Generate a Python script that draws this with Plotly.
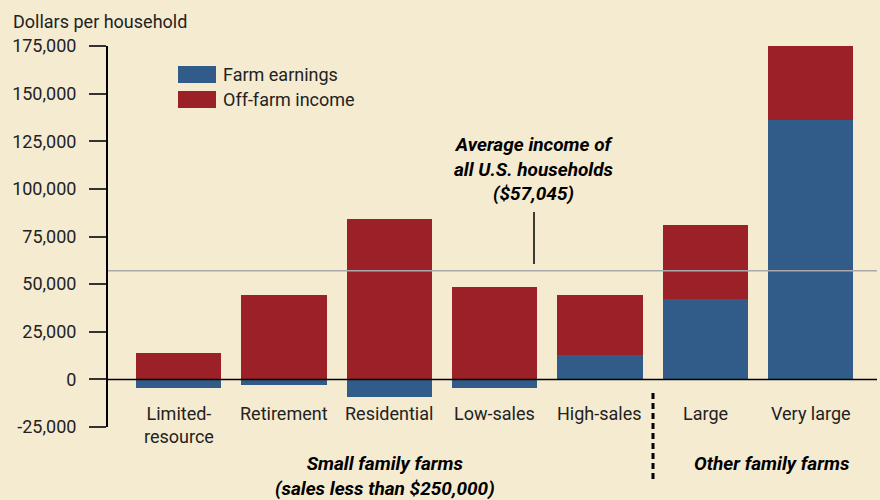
import plotly.graph_objects as go

categories = ["Limited-<br>resource", "Retirement", "Residential", "Low-sales", "High-sales", "Large", "Very large"]
farm_earnings = [-4500, -3200, -9300, -4600, 12600, 42000, 136000]
off_farm_income = [13700, 44100, 84000, 48300, 31500, 38900, 38900]
avg_income = 57045
y_ticks = [-25000, 0, 25000, 50000, 75000, 100000, 125000, 150000, 175000]

BLUE = "#315b88"
RED = "#9c2027"
BG = "#f5ebd0"
FONT = "Roboto, sans-serif"
TXT = "#222222"
FS = 18

xs = list(range(len(categories)))

fig = go.Figure()
fig.add_trace(go.Bar(x=xs, y=farm_earnings, marker_color=BLUE, width=0.81,
                     name="Farm earnings", showlegend=False, marker_line_width=0))
fig.add_trace(go.Bar(x=xs, y=off_farm_income, marker_color=RED, width=0.81,
                     name="Off-farm income", showlegend=False, marker_line_width=0))

L, R, T, B = 108, 3, 46, 73
W, H = 880, 500
pw, ph = W - L - R, H - T - B

def px_x(p):
    return (p - L) / pw

def px_y(p):
    return (H - B - p) / ph

shapes = []
annotations = []

shapes.append(dict(type="line", xref="paper", yref="y", x0=0, x1=1, y0=avg_income, y1=avg_income,
                   line=dict(color="#a9a9a9", width=1.5), layer="above"))
shapes.append(dict(type="line", xref="paper", yref="y", x0=0, x1=1, y0=0, y1=0,
                   line=dict(color="#000000", width=1.5), layer="above"))
shapes.append(dict(type="line", xref="paper", yref="paper", x0=px_x(534), x1=px_x(534),
                   y0=px_y(212), y1=px_y(264), line=dict(color="#000", width=1.5)))
shapes.append(dict(type="line", xref="paper", yref="paper", x0=px_x(653), x1=px_x(653),
                   y0=px_y(393), y1=px_y(483), line=dict(color="#000", width=3, dash="6px,4px")))

for (y0, y1, col, label) in [(66, 83, BLUE, "Farm earnings"), (91, 108, RED, "Off-farm income")]:
    shapes.append(dict(type="rect", xref="paper", yref="paper", x0=px_x(178), x1=px_x(216),
                       y0=px_y(y1), y1=px_y(y0), fillcolor=col, line=dict(width=0)))
    annotations.append(dict(xref="paper", yref="paper", x=px_x(221), y=px_y((y0 + y1) / 2),
                            text=label, showarrow=False, xanchor="left", yanchor="middle",
                            font=dict(family=FONT, size=FS, color=TXT)))

for i, c in enumerate(categories):
    annotations.append(dict(xref="x", yref="paper", x=i, y=px_y(401), text=c, showarrow=False,
                            xanchor="center", yanchor="top",
                            font=dict(family=FONT, size=FS, color=TXT)))

annotations.append(dict(xref="paper", yref="paper", x=px_x(534), y=px_y(207),
                        text="<b><i>Average income of<br>all U.S. households<br>($57,045)</i></b>",
                        showarrow=False, xanchor="center", yanchor="bottom",
                        font=dict(family=FONT, size=19, color="#000")))

annotations.append(dict(xref="paper", yref="paper", x=px_x(385), y=px_y(450),
                        text="<b><i>Small family farms<br>(sales less than $250,000)</i></b>",
                        showarrow=False, xanchor="center", yanchor="top",
                        font=dict(family=FONT, size=19, color="#000")))
annotations.append(dict(xref="paper", yref="paper", x=px_x(772), y=px_y(450),
                        text="<b><i>Other family farms</i></b>",
                        showarrow=False, xanchor="center", yanchor="top",
                        font=dict(family=FONT, size=19, color="#000")))

annotations.append(dict(xref="paper", yref="paper", x=px_x(11), y=px_y(21),
                        text="Dollars per household", showarrow=False, xanchor="left", yanchor="middle",
                        font=dict(family=FONT, size=FS, color=TXT)))

fig.update_layout(
    width=W, height=H, barmode="relative", bargap=0,
    paper_bgcolor=BG, plot_bgcolor=BG,
    margin=dict(l=L, r=R, t=T, b=B),
    xaxis=dict(range=[-0.67, 6.63], showticklabels=False, showgrid=False, zeroline=False,
               showline=False, ticks=""),
    yaxis=dict(range=[-25000, 175000], tickvals=y_ticks,
               ticktext=[f"{v:,}" for v in y_ticks],
               showgrid=False, zeroline=False, showline=True, linecolor="#000", linewidth=2,
               ticks="outside", ticklen=17, tickcolor="#333", tickwidth=1.5,
               ticklabelstandoff=9,
               tickfont=dict(family=FONT, size=FS, color=TXT)),
    shapes=shapes, annotations=annotations,
    font=dict(family=FONT),
)
fig.update_traces(cliponaxis=False)
fig.write_html(
    "out.html",
    config={"displayModeBar": False},
    post_script="document.body.style.margin='0';document.body.style.background='" + BG + "';",
)
